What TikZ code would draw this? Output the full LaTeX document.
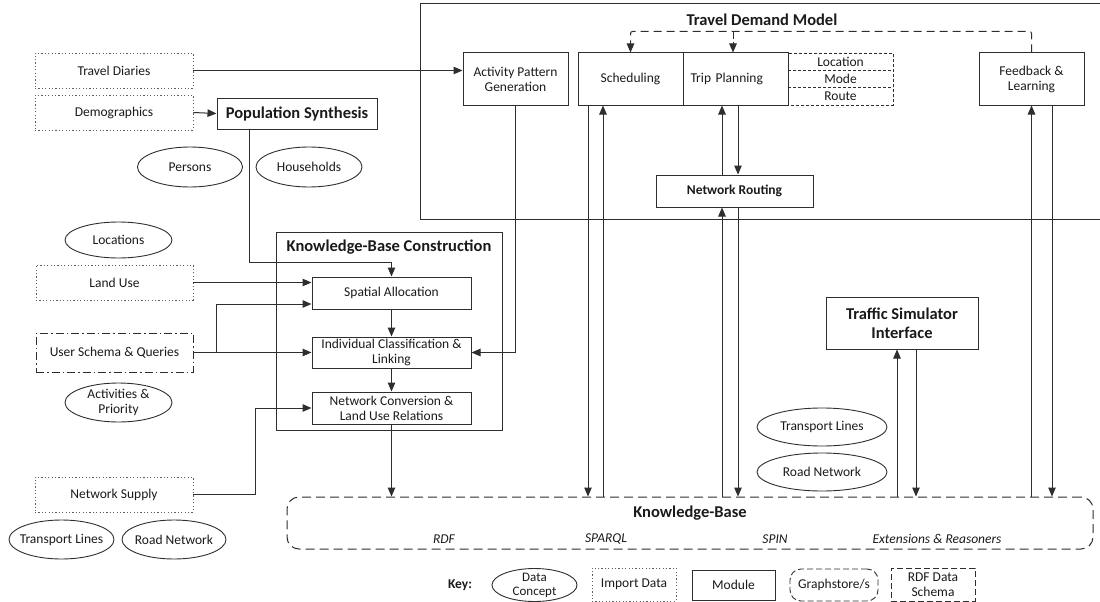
\documentclass[tikz,border=0pt]{standalone}
\usepackage{fontspec}
\setmainfont{Carlito}
\usetikzlibrary{arrows.meta,shapes.geometric,calc}
\definecolor{ln}{HTML}{2E2E2E}
\definecolor{tx}{HTML}{1A1A1A}
\definecolor{dotc}{HTML}{5E5E5E}
\begin{document}
\begin{tikzpicture}[x=1pt,y=-1pt,
  font=\fontsize{13.5}{15}\selectfont, text=tx,
  base/.style={inner sep=0pt, align=center, text=tx},
  module/.style={base, draw=ln, line width=1pt, rectangle},
  importbox/.style={base, draw=dotc, line width=0.9pt, dash pattern=on 1.2pt off 2.2pt},
  schemabox/.style={base, draw=ln, line width=0.9pt, dash pattern=on 6pt off 3pt},
  concept/.style={base, draw=ln, line width=0.9pt, ellipse, inner xsep=-14pt, inner ysep=-8pt},
  title/.style={font=\fontsize{16.5}{19}\selectfont\bfseries},
  subtitle/.style={font=\fontsize{13.5}{15}\selectfont\bfseries},
  arr/.style={draw=ln, line width=1pt, -{Triangle[length=9pt,width=7.5pt]}},
  wire/.style={draw=ln, line width=1pt},
  loopdash/.style={draw=ln, line width=1pt, dash pattern=on 8pt off 5pt, rounded corners=2pt},
  ital/.style={font=\fontsize{13.5}{15}\selectfont\itshape}
]
\useasboundingbox (0,0) rectangle (1100,602);

% ---- Travel demand model frame (open to the right) ----
\draw[wire] (1102,4) -- (420,4) -- (420,219) -- (1102,219);
\node[title] (tdmtitle) at (762,20) {Travel Demand Model};

\node[module, minimum width=105, minimum height=52] (apg) at (515.5,79) {Activity Pattern\\Generation};
\node[module, minimum width=105, minimum height=52] (sched) at (630.5,79) {Scheduling};
\node[module, minimum width=105, minimum height=52, text width=90, align=left] (trip) at (735.5,79) {Trip Planning};
% location / mode / route stack
\draw[draw=ln, line width=0.9pt, dash pattern=on 3pt off 2pt] (788,53) rectangle (893,105);
\draw[draw=ln, line width=0.9pt, dash pattern=on 3pt off 2pt] (788,70.3) -- (893,70.3) (788,87.7) -- (893,87.7);
\node[base] (loc) at (840.5,61.7) {Location};
\node[base] (mode) at (840.5,79) {Mode};
\node[base] (route) at (840.5,96.3) {Route};

\node[module, minimum width=105, minimum height=52] (fb) at (1031.5,79) {Feedback \&\\Learning};
\node[module, minimum width=157, minimum height=32, subtitle] (nr) at (734.5,191) {Network Routing};

% ---- import data, left column ----
\node[importbox, minimum width=158, minimum height=35] (td) at (114,70.5) {Travel Diaries};
\node[importbox, minimum width=158, minimum height=35] (demo) at (114,112.5) {Demographics};
\node[module, minimum width=160, minimum height=31, title] (popsyn) at (297,113.5) {Population Synthesis};
\node[concept, minimum width=105, minimum height=40] (persons) at (190,167) {Persons};
\node[concept, minimum width=106, minimum height=40] (households) at (309,167) {Households};

\node[concept, minimum width=107, minimum height=36] (locations) at (118.5,240) {Locations};
\node[importbox, minimum width=157, minimum height=35] (landuse) at (114.5,282.5) {Land Use};
\node[base, draw=ln, line width=0.9pt, dash pattern=on 8pt off 3pt on 1.5pt off 3pt, minimum width=157, minimum height=39] (user) at (114.5,352.5) {User Schema \& Queries};
\node[concept, minimum width=107, minimum height=39] (activities) at (118.5,402.5) {Activities \&\\Priority};

\node[importbox, minimum width=158, minimum height=35] (supply) at (114,494.5) {Network Supply};
\node[concept, minimum width=105, minimum height=39] (tl1) at (61.5,539.5) {Transport Lines};
\node[concept, minimum width=104, minimum height=39] (rn1) at (174,539.5) {Road Network};

% ---- knowledge-base construction ----
\node[module, minimum width=226, minimum height=198] (kbc) at (389,331) {};
\node[title] (kbctitle) at (389,247) {Knowledge-Base Construction};
\node[module, minimum width=159, minimum height=32] (spatial) at (391.5,293) {Spatial Allocation};
\node[module, minimum width=159, minimum height=31] (indiv) at (391.5,352.5) {Individual Classification \&\\Linking};
\node[module, minimum width=159, minimum height=32] (netconv) at (391.5,408) {Network Conversion \&\\Land Use Relations};

% ---- traffic simulator ----
\node[module, minimum width=152, minimum height=52, title] (traffic) at (902,323) {Traffic Simulator\\Interface};
\node[concept, minimum width=130, minimum height=38] (tl2) at (822,427) {Transport Lines};
\node[concept, minimum width=130, minimum height=38] (rn2) at (822,472) {Road Network};

% ---- knowledge-base graphstore ----
\node[base, draw=ln, line width=1pt, dash pattern=on 9pt off 5pt, rounded corners=12pt, minimum width=806, minimum height=52] (kb) at (690,523) {};
\node[title] (kbtitle) at (690,513) {Knowledge-Base};
\node[ital] (rdf) at (444,539) {RDF};
\node[ital] (sparql) at (606,539) {SPARQL};
\node[ital] (spin) at (775,539) {SPIN};
\node[ital] (ext) at (937,539) {Extensions \& Reasoners};

% ---- key ----
\node[subtitle] (key) at (460,585) {Key:};
\node[concept, minimum width=85, minimum height=33, font=\fontsize{13}{14}\selectfont] (kconcept) at (534.5,585) {Data\\Concept};
\node[importbox, minimum width=84, minimum height=33] (kimport) at (634,584.5) {Import Data};
\node[module, minimum width=83, minimum height=30] (kmodule) at (733.5,585) {Module};
\node[base, draw=ln, line width=0.9pt, dash pattern=on 6pt off 3pt, rounded corners=11pt, minimum width=88, minimum height=32] (kstore) at (834,585) {Graphstore/s};
\node[schemabox, minimum width=84, minimum height=33] (kschema) at (933,584.5) {RDF Data\\Schema};

% ---- connectors: left inputs ----
\draw[arr] (td.east) -- (td.east -| apg.west);
\draw[arr] (demo.east) -- (popsyn.west);
\draw[arr] ($(popsyn.south west)+(33,0)$) |- ($(spatial.north)+(0,-14)$) -- (spatial.north);
\draw[arr] (landuse.east) -- (landuse.east -| spatial.west);
\draw[arr] (user.east) -- (user.east -| indiv.west);
\draw[arr] ($(user.east)+(23,0)$) |- ($(spatial.west)+(0,11)$);
\draw[arr] (apg.south) |- (indiv.east);
\draw[arr] (spatial.south) -- (indiv.north);
\draw[arr] (indiv.south) -- (netconv.north);
\draw[arr] (supply.east) -- ++(62,0) |- (netconv.west);
\draw[arr] (netconv.south) -- (netconv.south |- kb.north);

% ---- connectors: travel demand model <-> knowledge base ----
\coordinate (s1) at ($(sched.south)+(-42.5,0)$);
\coordinate (s2) at ($(sched.south)+(-27.5,0)$);
\draw[arr] (s1) -- (s1 |- kb.north);
\draw[arr] (s2 |- kb.north) -- (s2);

\coordinate (t1) at ($(trip.south)+(-13.5,0)$);
\coordinate (t2) at ($(trip.south)+(2.5,0)$);
\draw[arr] (t1 |- nr.north) -- (t1);
\draw[arr] (t2) -- (t2 |- nr.north);
\draw[arr] (t1 |- kb.north) -- (t1 |- nr.south);
\draw[arr] (t2 |- nr.south) -- (t2 |- kb.north);

\coordinate (r1) at ($(traffic.south)+(-5,0)$);
\coordinate (r2) at ($(traffic.south)+(14,0)$);
\draw[arr] (r1 |- kb.north) -- (r1);
\draw[arr] (r2) -- (r2 |- kb.north);

\coordinate (f1) at (fb.south);
\coordinate (f2) at ($(fb.south)+(20.5,0)$);
\draw[arr] (f1 |- kb.north) -- (f1);
\draw[arr] (f2) -- (f2 |- kb.north);

% ---- feedback loop ----
\coordinate (loop) at ($(fb.north)+(0,-21)$);
\draw[loopdash] (fb.north) -- (loop) -| ($(sched.north)+(0,-10)$);
\draw[arr] ($(sched.north)+(0,-10)$) -- (sched.north);
\draw[loopdash] ($(trip.north)+(-2.5,-21)$) -- ($(trip.north)+(-2.5,-10)$);
\draw[arr] ($(trip.north)+(-2.5,-10)$) -- ($(trip.north)+(-2.5,0)$);
\end{tikzpicture}
\end{document}
